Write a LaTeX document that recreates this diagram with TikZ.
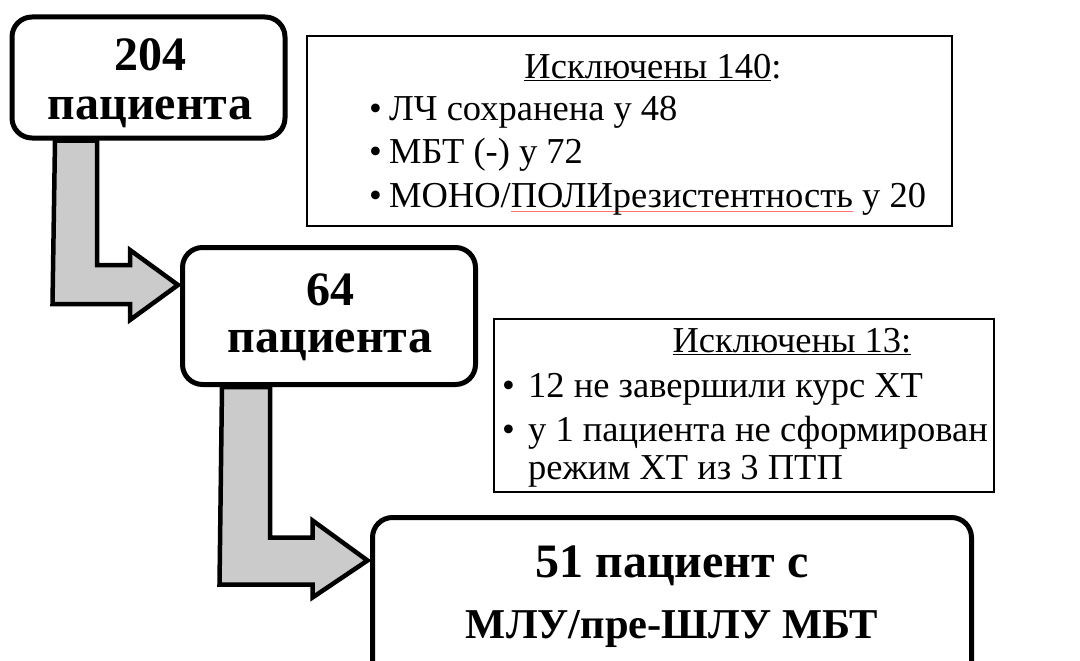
\documentclass[tikz,border=0pt]{standalone}
\usepackage{fontspec}
\setmainfont{Liberation Serif}
\newfontfamily\tnr{Liberation Serif}
\usetikzlibrary{calc}
\definecolor{arrowgray}{RGB}{203,203,203}
\newcommand\spellmark[1]{\setbox0\hbox{#1}\rlap{\raisebox{-5pt}{\color{red!55}\rule{\wd0}{0.7pt}}}#1}
\newcommand\bul[1]{\makebox[#1][l]{•}}
\begin{document}
\begin{tikzpicture}[x=1pt,y=-1pt,
  bigbox/.style={draw, line width=5pt, rounded corners=20pt, fill=white, inner sep=0pt},
  listbox/.style={draw, line width=2pt, fill=white, inner sep=0pt},
  bigtxt/.style={font=\tnr\fontsize{48}{52}\selectfont\bfseries, anchor=base, inner sep=0pt},
  listtxt/.style={font=\tnr\fontsize{36.5}{42}\selectfont, anchor=base west, inner sep=0pt},
  headtxt/.style={font=\tnr\fontsize{36.5}{42}\selectfont, anchor=base, inner sep=0pt},
  blockarrow/.style={draw, line width=4.5pt, fill=arrowgray, line join=miter}]
\useasboundingbox (0,0) rectangle (1080,661);
\clip (0,0) rectangle (1080,661);
% main boxes
\node[bigbox, minimum width=273pt, minimum height=121pt] (A) at (148.5,77.5) {};
\node[bigbox, minimum width=293pt, minimum height=137pt] (B) at (329,316) {};
\node[bigbox, minimum width=599pt, minimum height=183pt] (C) at (672,609) {};
% list boxes
\node[listbox, minimum width=645pt, minimum height=190pt] (L1) at (629.5,131) {};
\node[listbox, minimum width=500pt, minimum height=173pt] (L2) at (744,405.5) {};
% texts in main boxes
\node[bigtxt] (A1) at (150,70.5) {204};
\node[bigtxt] (A2) at (150,119) {пациента};
\node[bigtxt] (B1) at (330,305.5) {64};
\node[bigtxt] (B2) at (330,352) {пациента};
\node[bigtxt] (C1) at (672,577) {51 пациент с};
\node[bigtxt, font=\tnr\fontsize{42.5}{48}\selectfont\bfseries] (C2) at (672,638) {МЛУ/пре-ШЛУ МБТ};
% list 1
\node[headtxt] (H1) at (653,78) {\underline{Исключены 140}:};
\node[listtxt] (I11) at (369,121) {\bul{20pt}ЛЧ сохранена у 48};
\node[listtxt] (I12) at (369,164) {\bul{20pt}МБТ (-) у 72};
\node[listtxt] (I13) at (369,207) {\bul{20pt}МОНО/\spellmark{ПОЛИрезистентность} у 20};
% list 2
\node[headtxt] (H2) at (792,352) {\underline{Исключены 13:}};
\node[listtxt] (I21) at (502,397) {\bul{26pt}12 не завершили курс ХТ};
\node[listtxt] (I22) at (502,441) {\bul{26pt}у 1 пациента не сформирован};
\node[listtxt] (I23) at (528,479) {режим ХТ из 3 ПТП};
% block arrows
\coordinate (tA) at ($(B.west)+(-2,-31)$);
\draw[blockarrow] ($(A.south)+(-93.5,0)$) -- ($(A.south)+(-51.5,0)$)
  |- ($(tA)+(-48,-20)$) -- ($(tA)+(-48,-35)$) -- (tA) -- ($(tA)+(-48,35)$)
  -- ($(tA)+(-48,19)$) -- ($(tA)+(-125.5,19)$) -- cycle;
\coordinate (tB) at ($(C.north west)+(-2.5,45.5)$);
\draw[blockarrow] ($(B.south)+(-107,0)$) -- ($(B.south)+(-59,0)$)
  |- ($(tB)+(-55,-23)$) -- ($(tB)+(-55,-40)$) -- (tB) -- ($(tB)+(-55,37)$)
  -- ($(tB)+(-55,24)$) -- ($(tB)+(-148,24)$) -- cycle;
\end{tikzpicture}
\end{document}
